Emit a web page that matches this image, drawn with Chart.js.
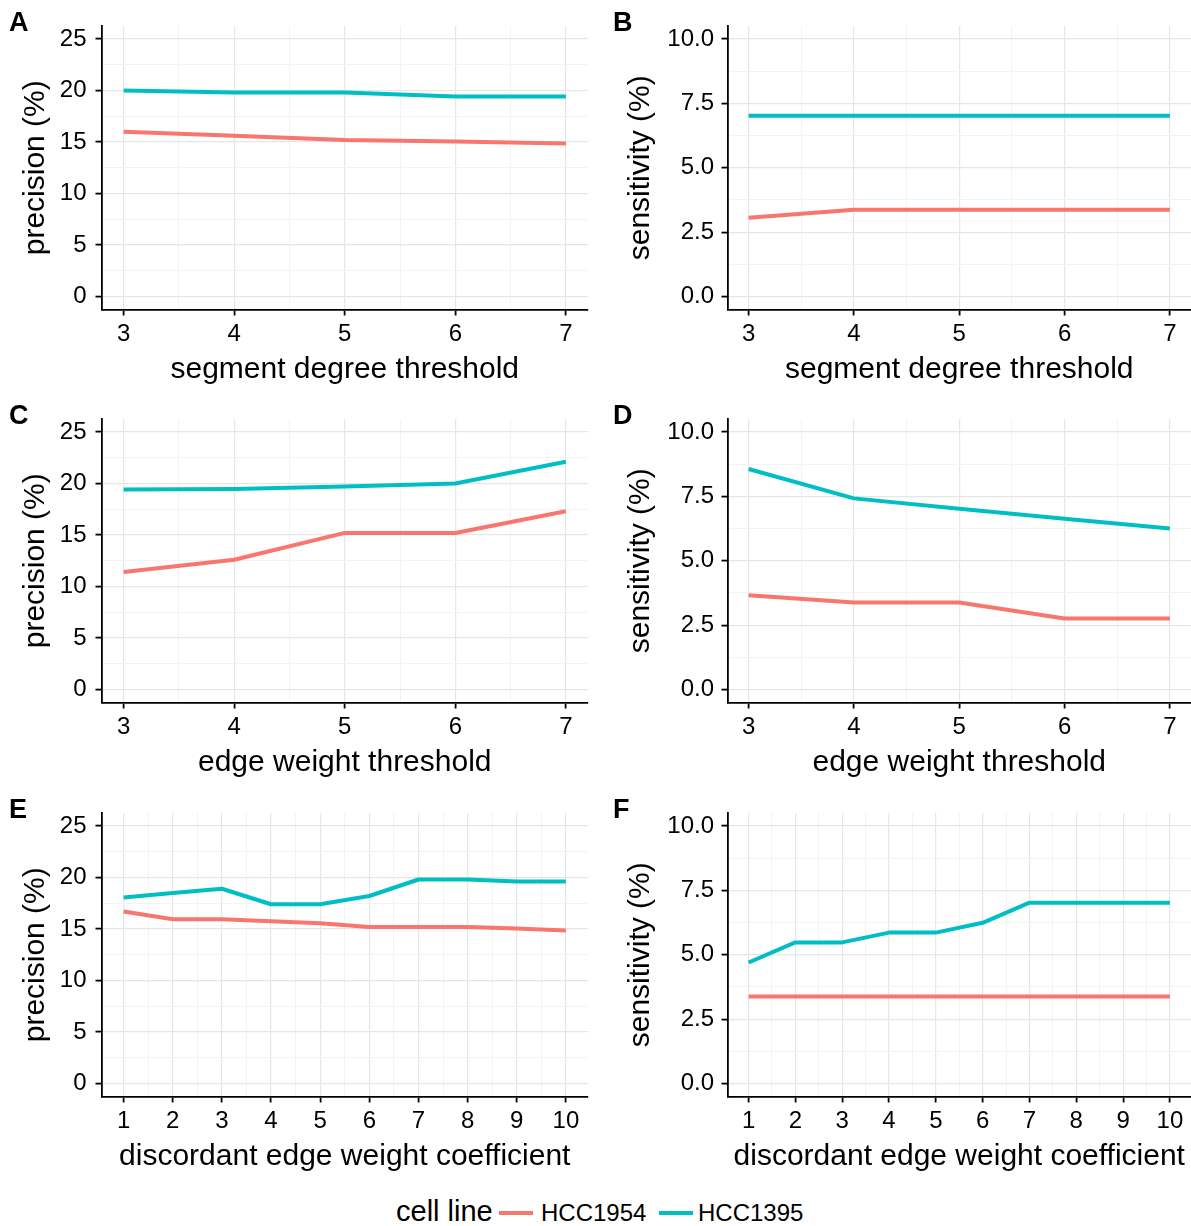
<!DOCTYPE html>
<html>
<head>
<meta charset="utf-8">
<script src="https://cdn.jsdelivr.net/npm/chart.js@4/dist/chart.umd.min.js"></script>
<style>
    body { margin: 0; background: #fff; }
    #wrap { position: relative; width: 1191px; height: 1226px; background: #fff; font-family: "Liberation Sans", Arial, sans-serif; }
    canvas { position: absolute; }
    .tag { position: absolute; font-weight: bold; font-size: 27px; line-height: 27px; color: #000; }
    .leg { position: absolute; color: #000; white-space: nowrap; }
    .key { position: absolute; height: 4px; }
</style>
</head>
<body>
<div id="wrap"></div>
<script>
// x categories
const thresholdX = [3, 4, 5, 6, 7];
const coefficientX = [1, 2, 3, 4, 5, 6, 7, 8, 9, 10];

// tick labels
const precisionTicks = [0, 5, 10, 15, 20, 25];
const sensitivityTicks = [0, 2.5, 5, 7.5, 10];

// series
const seriesNames = ['HCC1954', 'HCC1395'];
const seriesColors = ['#F8766D', '#00BFC4'];

// A - segment degree threshold, precision
const segPrec1954 = [16.0, 15.6, 15.2, 15.05, 14.85];
const segPrec1395 = [20.0, 19.8, 19.8, 19.4, 19.4];
// B - segment degree threshold, sensitivity
const segSens1954 = [3.06, 3.37, 3.37, 3.37, 3.37];
const segSens1395 = [7.02, 7.02, 7.02, 7.02, 7.02];
// C - edge weight threshold, precision
const edgePrec1954 = [11.4, 12.6, 15.2, 15.2, 17.3];
const edgePrec1395 = [19.4, 19.45, 19.7, 20.0, 22.1];
// D - edge weight threshold, sensitivity
const edgeSens1954 = [3.66, 3.38, 3.38, 2.76, 2.76];
const edgeSens1395 = [8.56, 7.42, 7.02, 6.63, 6.25];
// E - discordant edge weight coefficient, precision
const discPrec1954 = [16.7, 15.95, 15.95, 15.75, 15.55, 15.2, 15.2, 15.2, 15.05, 14.85];
const discPrec1395 = [18.05, 18.5, 18.9, 17.4, 17.4, 18.2, 19.8, 19.8, 19.6, 19.6];
// F - discordant edge weight coefficient, sensitivity
const discSens1954 = [3.38, 3.38, 3.38, 3.38, 3.38, 3.38, 3.38, 3.38, 3.38, 3.38];
const discSens1395 = [4.7, 5.48, 5.48, 5.86, 5.86, 6.24, 7.02, 7.02, 7.02, 7.02];

Chart.defaults.font.family = '"Liberation Sans", Arial, sans-serif';
Chart.defaults.color = '#000';

const panels = [
    { tag: 'A', col: 0, row: 0, xs: thresholdX, yTicks: precisionTicks, dec: 0, yTitle: 'precision (%)', xTitle: 'segment degree threshold', data: [segPrec1954, segPrec1395] },
    { tag: 'B', col: 1, row: 0, xs: thresholdX, yTicks: sensitivityTicks, dec: 1, yTitle: 'sensitivity (%)', xTitle: 'segment degree threshold', data: [segSens1954, segSens1395] },
    { tag: 'C', col: 0, row: 1, xs: thresholdX, yTicks: precisionTicks, dec: 0, yTitle: 'precision (%)', xTitle: 'edge weight threshold', data: [edgePrec1954, edgePrec1395] },
    { tag: 'D', col: 1, row: 1, xs: thresholdX, yTicks: sensitivityTicks, dec: 1, yTitle: 'sensitivity (%)', xTitle: 'edge weight threshold', data: [edgeSens1954, edgeSens1395] },
    { tag: 'E', col: 0, row: 2, xs: coefficientX, yTicks: precisionTicks, dec: 0, yTitle: 'precision (%)', xTitle: 'discordant edge weight coefficient', data: [discPrec1954, discPrec1395] },
    { tag: 'F', col: 1, row: 2, xs: coefficientX, yTicks: sensitivityTicks, dec: 1, yTitle: 'sensitivity (%)', xTitle: 'discordant edge weight coefficient', data: [discSens1954, discSens1395] }
];

// column / row geometry (ggplot-like panel boxes)
const cols = [
    { left: 0, width: 595, axisW: 101.5, padRight: 7, yTitlePad: 17.5, yTickPad: 9 },
    { left: 600, width: 591, axisW: 127.5, padRight: 0, yTitlePad: 22.5, yTickPad: 7.5 }
];
const rowStep = 393.3;
const panelH = 393;
const plotTop = 26;
const plotBottom = 309.5;

const tickFont = 24;
const titleFont = 30;

const wrap = document.getElementById('wrap');

// add minor (half-way) breaks between major breaks
function withMinor(major) {
    const out = [];
    major.forEach((v, i) => {
        out.push(v);
        if (i < major.length - 1) out.push((v + major[i + 1]) / 2);
    });
    return out;
}

function expand(major) {
    const lo = major[0], hi = major[major.length - 1];
    const pad = (hi - lo) * 0.05;
    return [lo - pad, hi + pad];
}

function gridStyle(major) {
    return {
        color: ctx => major.includes(ctx.tick.value) ? '#e6e6e6' : '#f3f3f3',
        lineWidth: ctx => major.includes(ctx.tick.value) ? 1.2 : 1,
        tickColor: ctx => major.includes(ctx.tick.value) ? '#000' : 'rgba(0,0,0,0)',
        tickWidth: 1.8,
        tickLength: 6,
        drawTicks: true
    };
}

panels.forEach(p => {
    const c = cols[p.col];
    const top = Math.round(p.row * rowStep);

    const canvas = document.createElement('canvas');
    canvas.width = c.width;
    canvas.height = panelH;
    canvas.style.left = c.left + 'px';
    canvas.style.top = top + 'px';
    wrap.appendChild(canvas);

    const tag = document.createElement('div');
    tag.className = 'tag';
    tag.textContent = p.tag;
    tag.style.left = (c.left + (p.col === 0 ? 9 : 13)) + 'px';
    tag.style.top = (top + 8.5) + 'px';
    wrap.appendChild(tag);

    const xRange = expand(p.xs);
    const yRange = expand(p.yTicks);
    const xAll = withMinor(p.xs);
    const yAll = withMinor(p.yTicks);

    new Chart(canvas, {
        type: 'line',
        data: {
            datasets: p.data.map((ys, i) => ({
                label: seriesNames[i],
                data: p.xs.map((x, j) => ({ x: x, y: ys[j] })),
                borderColor: seriesColors[i],
                borderWidth: 4,
                borderJoinStyle: 'round',
                pointRadius: 0,
                tension: 0,
                fill: false
            }))
        },
        options: {
            responsive: false,
            animation: false,
            events: [],
            layout: { padding: { top: plotTop, right: c.padRight, left: 0, bottom: 0 } },
            plugins: { legend: { display: false }, tooltip: { enabled: false } },
            scales: {
                x: {
                    type: 'linear',
                    min: xRange[0],
                    max: xRange[1],
                    afterBuildTicks: axis => { axis.ticks = xAll.map(v => ({ value: v })); },
                    afterFit: axis => { axis.height = panelH - plotBottom; },
                    grid: gridStyle(p.xs),
                    border: { display: true, color: '#000', width: 1.8 },
                    ticks: {
                        autoSkip: false,
                        maxRotation: 0,
                        padding: 4.5,
                        font: { size: tickFont },
                        color: '#000',
                        callback: v => p.xs.includes(v) ? String(v) : ''
                    },
                    title: {
                        display: true,
                        text: p.xTitle,
                        font: { size: titleFont },
                        color: '#000',
                        padding: { top: 0, bottom: 5 }
                    }
                },
                y: {
                    type: 'linear',
                    min: yRange[0],
                    max: yRange[1],
                    afterBuildTicks: axis => { axis.ticks = yAll.map(v => ({ value: v })); },
                    afterFit: axis => { axis.width = c.axisW; },
                    grid: gridStyle(p.yTicks),
                    border: { display: true, color: '#000', width: 1.8 },
                    ticks: {
                        autoSkip: false,
                        padding: c.yTickPad,
                        font: { size: tickFont },
                        color: '#000',
                        callback: v => p.yTicks.includes(v) ? v.toFixed(p.dec) : ''
                    },
                    title: {
                        display: true,
                        text: p.yTitle,
                        font: { size: titleFont },
                        color: '#000',
                        padding: { top: c.yTitlePad, bottom: 0 }
                    }
                }
            }
        }
    });
});

// shared legend at the bottom
function addText(text, left, top, size) {
    const el = document.createElement('div');
    el.className = 'leg';
    el.textContent = text;
    el.style.left = left + 'px';
    el.style.top = top + 'px';
    el.style.fontSize = size + 'px';
    el.style.lineHeight = size + 'px';
    wrap.appendChild(el);
}
function addKey(color, left) {
    const el = document.createElement('div');
    el.className = 'key';
    el.style.background = color;
    el.style.left = left + 'px';
    el.style.top = '1210.5px';
    el.style.width = '34px';
    wrap.appendChild(el);
}
addText('cell line', 396, 1197, 29);
addKey(seriesColors[0], 499);
addText(seriesNames[0], 541, 1201, 24);
addKey(seriesColors[1], 659);
addText(seriesNames[1], 698, 1201, 24);
</script>
</body>
</html>
